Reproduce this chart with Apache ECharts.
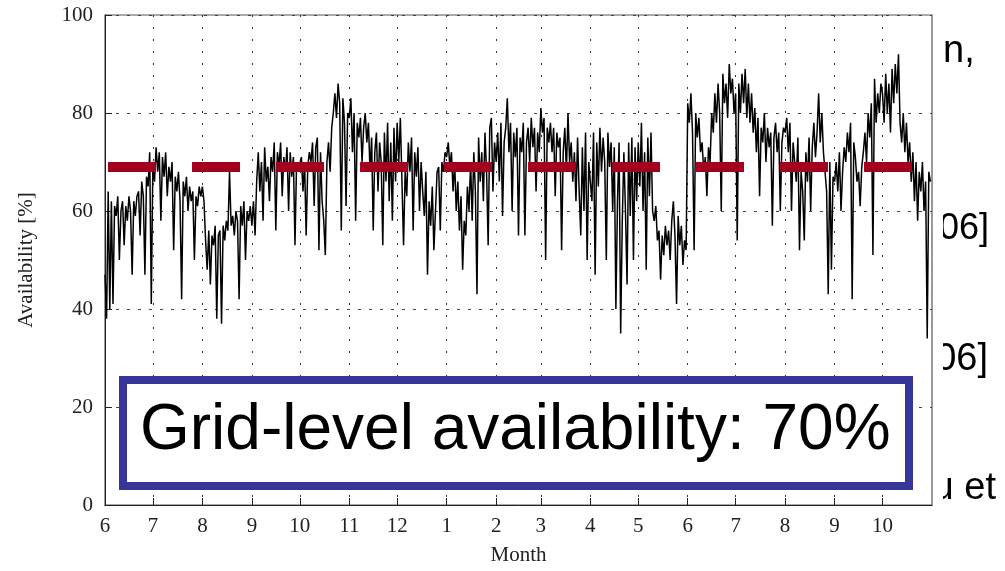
<!DOCTYPE html>
<html><head><meta charset="utf-8">
<script src="https://cdn.jsdelivr.net/npm/echarts@6/dist/echarts.min.js"></script>
<style>html,body{margin:0;padding:0;background:#fff}#c{width:1005px;height:571px}</style>
</head><body><div id="c"></div>
<script>
// Month boundaries (days since June 1 of the first year) and their tick labels
const monthStarts = [0,30,61,92,122,153,183,214,245,273,304,334,365,395,426,457,487];
const monthLabels = ['6','7','8','9','10','11','12','1','2','3','4','5','6','7','8','9','10'];
const xMax = 518;
const yTicks = [0,20,40,60,80,100];

// Daily availability [%], one array per month
const jun1 = [47,38,64,40,62,41,61,59,63,50,60,62,53,61,58,63,60,47,62,59,63,64,55,66,63,47,67,65,72,41];
const jul1 = [70,66,73,68,72,58,71,67,72,63,69,66,70,52,67,64,68,62,42,66,63,67,60,65,62,64,50,63,61,65,63];
const aug1 = [65,62,54,48,56,45,55,53,57,38,55,56,37,57,54,58,56,68,57,59,55,60,58,42,61,57,62,50,60,58,61];
const sep1 = [57,62,55,66,72,64,70,58,73,66,69,62,71,68,74,56,72,69,74,63,71,68,73,60,72,67,71,53,70,68];
const oct1 = [68,71,64,70,55,69,72,70,74,61,73,75,52,72,62,58,51,70,74,68,77,80,84,79,86,82,56,83,78,61,80];
const nov1 = [79,83,72,80,58,78,75,79,70,77,80,74,78,68,75,56,72,76,64,74,70,53,76,66,78,62,74,58,77,66];
const dec1 = [78,70,79,66,53,68,63,74,68,75,56,72,67,73,60,70,64,59,68,47,62,57,65,52,60,68,69,56,70,68,72];
const jan2 = [71,74,69,72,64,70,60,66,56,63,48,58,55,65,60,70,58,72,64,43,75,66,72,62,76,68,53,77,79,64,74];
const feb2 = [70,76,66,78,59,74,77,83,72,78,60,76,71,77,55,75,72,78,55,74,77,70,79,73,77,64,76,72];
const mar2 = [81,76,79,50,77,74,78,72,77,63,76,73,75,52,72,77,68,80,70,74,66,72,62,75,64,55,73,60,76,50,70];
const apr2 = [70,62,76,47,74,65,77,68,75,70,50,76,69,74,60,73,40,62,74,35,58,72,60,45,74,59,75,50,73,62];
const may2 = [74,65,78,60,72,48,75,63,76,60,58,61,54,56,46,55,51,57,53,56,50,58,62,55,41,59,53,57,49,54,52];
const jun2 = [82,78,84,76,52,80,75,79,72,74,68,71,63,73,70,80,76,84,78,86,80,60,88,82,86,79,90,84,87,80];
const jul2 = [84,54,86,80,88,82,89,79,86,78,84,76,81,72,79,63,77,74,80,70,77,73,76,57,75,78,72,76,60,74,77];
const aug2 = [76,79,72,78,60,74,70,66,75,52,68,64,54,72,66,75,60,73,78,71,76,84,74,80,72,68,64,43,70,48,67];
const sep2 = [66,70,64,72,60,68,73,70,76,72,78,42,74,71,66,68,61,69,72,76,70,80,75,82,51,87,78,84,80,86];
const oct2 = [84,78,88,80,86,76,89,82,90,84,92,78,74,80,72,78,70,74,66,72,62,70,58,68,64,70,60,66,34,68,66];
const months = [jun1,jul1,aug1,sep1,oct1,nov1,dec1,jan2,feb2,mar2,apr2,may2,jun2,jul2,aug2,sep2,oct2];

// Average level line (dashed red)
const avgLevel = 69;
const avgSpan = [1.9, 505.5];

const boxText = 'Grid-level availability: 70%';
const sideTexts = ['n,', '06]', '06]', 'u et'];

const series0 = [];
months.forEach((arr, m) => arr.forEach((v, i) => series0.push([monthStarts[m] + i, v])));

const serif = 'Liberation Serif';
const chart = echarts.init(document.getElementById('c'));
chart.setOption({
  animation: false,
  backgroundColor: '#fff',
  grid: {left: 105, right: 73, top: 15, bottom: 63, show: true, borderColor: '#555', borderWidth: 1.2, backgroundColor: 'transparent'},
  xAxis: {
    type: 'value', min: 0, max: xMax,
    name: 'Month', nameLocation: 'middle', nameGap: 40,
    nameTextStyle: {fontFamily: serif, fontSize: 21, color: '#222'},
    axisLine: {lineStyle: {color: '#222', width: 1}},
    axisTick: {inside: true, length: 7, customValues: monthStarts, lineStyle: {color: '#222'}},
    axisLabel: {customValues: monthStarts, formatter: v => monthLabels[monthStarts.indexOf(v)],
      fontFamily: serif, fontSize: 21, color: '#222', margin: 11},
    splitLine: {show: true, lineStyle: {type: [2, 10], color: '#333', width: 1}}
  },
  yAxis: {
    type: 'value', min: 0, max: 100, interval: 20,
    name: 'Availability [%]', nameLocation: 'middle', nameGap: 68, nameRotate: 90,
    nameTextStyle: {fontFamily: serif, fontSize: 21, color: '#222'},
    axisLine: {show: true, lineStyle: {color: '#222', width: 1}},
    axisTick: {show: true, inside: true, length: 7, lineStyle: {color: '#222'}},
    axisLabel: {fontFamily: serif, fontSize: 21, color: '#222', margin: 12,
      formatter: v => yTicks.includes(v) ? String(v) : ''},
    splitLine: {show: true, lineStyle: {type: [3, 8], color: '#444', width: 1}}
  },
  series: [
    {type: 'line', data: series0, symbol: 'none', showSymbol: false, sampling: null,
     lineStyle: {color: '#000', width: 1.5, join: 'miter', miterLimit: 2}, z: 2},
    {type: 'line', data: [[avgSpan[0], avgLevel], [avgSpan[1], avgLevel]], symbol: 'none',
     lineStyle: {color: '#a3001f', width: 10, type: [48, 36], cap: 'butt'}, z: 3}
  ],
  graphic: [
    {type: 'text', x: 943, y: 52, z: -10, silent: true,
     style: {text: sideTexts[0], font: '38px "Liberation Sans"', fill: '#000', textAlign: 'left', textVerticalAlign: 'middle'}},
    {type: 'text', x: 989, y: 229, z: -10, silent: true,
     style: {text: sideTexts[1], font: '36px "Liberation Sans"', fill: '#000', textAlign: 'right', textVerticalAlign: 'middle'}},
    {type: 'text', x: 988, y: 360, z: -10, silent: true,
     style: {text: sideTexts[2], font: '38px "Liberation Sans"', fill: '#000', textAlign: 'right', textVerticalAlign: 'middle'}},
    {type: 'text', x: 996, y: 489, z: -10, silent: true,
     style: {text: sideTexts[3], font: '38px "Liberation Sans"', fill: '#000', textAlign: 'right', textVerticalAlign: 'middle'}},
    {type: 'rect', x: 0, y: 0, z: -5, silent: true, shape: {x: 0, y: 0, width: 943, height: 571}, style: {fill: '#fff'}},
    {type: 'rect', x: 0, y: 0, z: 100, silent: true, shape: {x: 123, y: 380, width: 786, height: 106},
     style: {fill: '#fff', stroke: '#363699', lineWidth: 8}},
    {type: 'text', x: 140, y: 431, z: 101, silent: true,
     style: {text: boxText, font: '64px "Liberation Sans"', fill: '#000', textAlign: 'left', textVerticalAlign: 'middle'}}
  ]
});
</script></body></html>
